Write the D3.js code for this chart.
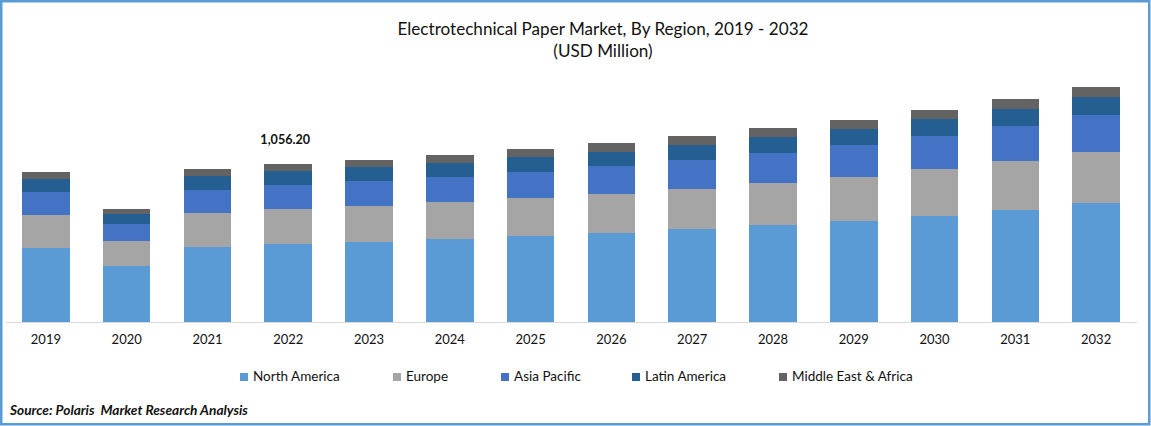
<!DOCTYPE html>
<html>
<head>
<meta charset="utf-8">
<script src="https://cdn.jsdelivr.net/npm/d3@7"></script>
<style>
  html, body { margin: 0; padding: 0; background: #fff; }
  svg { display: block; }
  text { font-family: Lato, "Open Sans", sans-serif; fill: #111; }
</style>
</head>
<body>
<div id="chart"></div>
<script>
const years = ['2019','2020','2021','2022','2023','2024','2025','2026','2027','2028','2029','2030','2031','2032'];
const regions = ['North America','Europe','Asia Pacific','Latin America','Middle East & Africa'];
const colors = ['#5b9bd5','#a5a5a5','#4472c4','#255e91','#636363'];

// values, USD million
const northAmerica = [495,374,501,521,535,555,575,595,622,648,675,709,749,796];
const europe = [221,167,227,234,241,247,254,261,267,281,294,314,328,341];
const asiaPacific = [154,114,154,160,167,167,174,187,194,201,214,221,234,247];
const latinAmerica = [87,67,94,94,94,94,100,94,100,107,107,114,114,120];
const middleEastAfrica = [47,33,47,47.2,47,53,53,60,60,60,60,60,67,67];

const labelYear = '2022';
const labelText = '1,056.20';

const legendX = [240,393,501,632,779];

const width = 1151, height = 426;

const svg = d3.select('#chart').append('svg')
    .attr('width', width)
    .attr('height', height);

// frame
svg.append('rect')
    .attr('x', 1.25).attr('y', 1.25)
    .attr('width', width - 3).attr('height', height - 3)
    .attr('fill', '#fff')
    .attr('stroke', '#5b9bd5')
    .attr('stroke-width', 2.5);

// title
svg.append('text').attr('x', 603).attr('y', 35)
    .attr('text-anchor', 'middle').attr('font-size', 17.1)
    .text('Electrotechnical Paper Market, By Region, 2019 - 2032');
svg.append('text').attr('x', 603).attr('y', 57)
    .attr('text-anchor', 'middle').attr('font-size', 17.1)
    .text('(USD Million)');

const x = d3.scaleBand().domain(years).range([5.5, 1136.5]).paddingInner(0.412).paddingOuter(0.206);
const y = d3.scaleLinear().domain([0, 1056.2]).range([322, 164]);

const rows = years.map((year, i) => ({
    year,
    'North America': northAmerica[i],
    'Europe': europe[i],
    'Asia Pacific': asiaPacific[i],
    'Latin America': latinAmerica[i],
    'Middle East & Africa': middleEastAfrica[i]
}));
const stacked = d3.stack().keys(regions)(rows);

svg.selectAll('g.layer')
    .data(stacked)
    .join('g')
    .attr('class', 'layer')
    .attr('fill', (d, i) => colors[i])
    .selectAll('rect')
    .data(d => d)
    .join('rect')
    .attr('x', d => x(d.data.year))
    .attr('width', x.bandwidth())
    .attr('y', d => y(d[1]))
    .attr('height', d => y(d[0]) - y(d[1]))
    .attr('shape-rendering', 'crispEdges');

// x axis
const axis = svg.append('g')
    .attr('transform', 'translate(0,322)')
    .call(d3.axisBottom(x).tickSize(0).tickPadding(13));
axis.select('.domain').attr('stroke', '#d9d9d9').attr('stroke-width', 1.2);
axis.selectAll('text').attr('font-size', 13).style('font-family', 'Lato').attr('fill', '#111');

// value label
const labelRow = stacked[4].find(d => d.data.year === labelYear);
svg.append('text')
    .attr('x', x(labelYear) + x.bandwidth() / 2 - 3)
    .attr('y', y(labelRow[1]) - 20)
    .attr('text-anchor', 'middle')
    .attr('font-size', 12.6)
    .attr('font-weight', 700)
    .text(labelText);

// legend
const legend = svg.selectAll('g.legend')
    .data(regions)
    .join('g')
    .attr('class', 'legend')
    .attr('transform', (d, i) => `translate(${legendX[i]},373)`);
legend.append('rect').attr('width', 8).attr('height', 8).attr('fill', (d, i) => colors[i]);
legend.append('text').attr('x', 13).attr('y', 8).attr('font-size', 13.5).text(d => d);

// source
svg.append('text').attr('x', 10).attr('y', 415)
    .attr('font-size', 13.7).attr('font-weight', 700).attr('font-style', 'italic')
    .text('Source: Polaris  Market Research Analysis')
    .attr('xml:space', 'preserve');
</script>
</body>
</html>
